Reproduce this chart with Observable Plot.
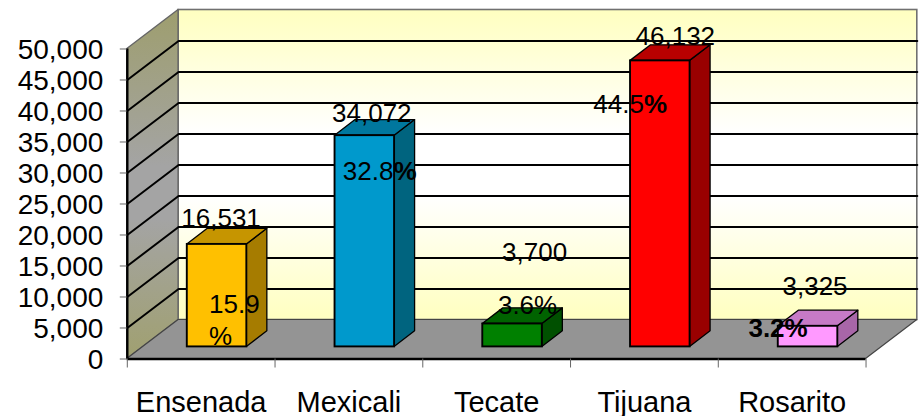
<!DOCTYPE html>
<html><head><meta charset="utf-8">
<script src="https://cdn.jsdelivr.net/npm/d3@7"></script>
<script src="https://cdn.jsdelivr.net/npm/@observablehq/plot@0.6"></script>
<style>html,body{margin:0;padding:0;background:#fff}svg{display:block}</style>
</head><body><div id="c"></div>
<script>
const categories = ["Ensenada","Mexicali","Tecate","Tijuana","Rosarito"];
const values = [16531,34072,3700,46132,3325];
const countLabels = ["16,531","34,072","3,700","46,132","3,325"];
const frontColors = ["#FFC000","#0099CC","#008000","#FF0000","#FF99FF"];
const topColors = ["#C69500","#00779E","#006300","#B80000","#C67AC6"];
const sideColors = ["#A67C00","#00647F","#005000","#990000","#A866A8"];
const yTicks = [0,5000,10000,15000,20000,25000,30000,35000,40000,45000,50000];
const gridValues = [5000,10000,15000,20000,25000,30000,35000,40000,45000];

// oblique projection: depth shifts a point right and up in data units
const depthX = 0.347, depthY = 6290;
const yMax = 50000, nCat = categories.length;
const d0 = 0.31, d1 = 0.71, barW = 0.403;

const bars = categories.map((name,i)=>{
  const xl = i + 0.5 - barW/2, xr = i + 0.5 + barW/2;
  return {name, v:values[i], i, xl, xr, front:frontColors[i], top:topColors[i], side:sideColors[i]};
});
const px = (u,d)=>u + d*depthX, py = (v,d)=>v + d*depthY;

const sidePts = bars.flatMap(b=>[d0,d1].map(d=>({name:b.name, color:b.side, x:px(b.xr,d), y1:py(0,d), y2:py(b.v,d)})));
const topPts = bars.flatMap(b=>[d0,d1].map(d=>({name:b.name, color:b.top, y:py(b.v,d), x1:px(b.xl,d), x2:px(b.xr,d)})));
const gridPts = gridValues.flatMap(v=>[
  {v,x:0,y:v},{v,x:depthX,y:py(v,1)},{v,x:nCat+depthX,y:py(v,1)}]);

const font = "Liberation Sans, Arial, sans-serif";
const anchorX = b=>px(b.i+0.5,d0), anchorY = b=>py(b.v,d0);
const label = (i,text,dx,dy,opts={}) => Plot.text([bars[i]],{
  x:anchorX, y:anchorY, text:()=>text, dx, dy, fontSize:26, fill:"#000", lineHeight:1.24,
  textAnchor:"middle", lineAnchor:"middle", ...opts});

const gradients = () => {
  const defs = d3.create("svg:defs");
  const add = (id,stops)=>{
    const g = defs.append("linearGradient").attr("id",id).attr("x1",0).attr("y1",0).attr("x2",0).attr("y2",1);
    stops.forEach(([o,c])=>g.append("stop").attr("offset",o).attr("stop-color",c));
  };
  add("wall",[["0%","#FFFFC0"],["40%","#FFFFFF"],["60%","#FFFFFF"],["100%","#FFFFC0"]]);
  add("leftwall",[["0%","#9E9E6E"],["45%","#A4A4A4"],["60%","#A4A4A4"],["100%","#A0A070"]]);
  return defs.node();
};

const chart = Plot.plot({
  width:920, height:416,
  marginLeft:126.8, marginRight:3.2, marginTop:9.5, marginBottom:57.5,
  style:{fontFamily:font, background:"#fff", overflow:"visible"},
  x:{domain:[0,nCat+depthX]},
  y:{domain:[0,yMax+depthY]},
  color:{type:"identity"},
  marks:[
    gradients,
    // back wall
    Plot.rect([0],{x1:depthX,x2:nCat+depthX,y1:py(0,1),y2:py(yMax,1),fill:"url(#wall)",stroke:"#707070",strokeWidth:1.6}),
    // left wall
    Plot.areaY([{x:0,y1:0,y2:yMax},{x:depthX,y1:py(0,1),y2:py(yMax,1)}],
      {x:"x",y1:"y1",y2:"y2",fill:"url(#leftwall)",stroke:"#666",strokeWidth:1.4}),
    // gridlines on both walls
    Plot.line(gridPts,{x:"x",y:"y",z:"v",stroke:"#000",strokeWidth:2}),
    // floor
    Plot.areaX([{y:0,x1:0,x2:nCat},{y:py(0,1),x1:depthX,x2:nCat+depthX}],
      {y:"y",x1:"x1",x2:"x2",fill:"#949494",stroke:"#444",strokeWidth:1.2}),
    // axes
    Plot.ruleY([0],{x1:0,x2:nCat,stroke:"#000",strokeWidth:2.4}),
    Plot.ruleX([0],{y1:0,y2:yMax,stroke:"#000",strokeWidth:2.4}),
    Plot.axisY({ticks:yTicks,tickSize:7,tickFormat:()=>"",stroke:"#666",label:null}),
    Plot.axisY({ticks:yTicks,tickFormat:d=>d3.format(",")(d),tickSize:0,tickPadding:24,dy:1,fontSize:28,label:null,fill:"#000"}),
    Plot.axisX({ticks:d3.range(0,nCat+1),tickSize:9,tickFormat:()=>"",stroke:"#666",label:null}),
    Plot.axisX({ticks:categories.map((c,i)=>i+0.5),tickSize:0,tickPadding:32,tickFormat:d=>categories[d-0.5],fontSize:29,fill:"#000",label:null}),
    // bars
    Plot.areaY(sidePts,{x:"x",y1:"y1",y2:"y2",z:"name",fill:"color",stroke:"#000",strokeWidth:1.3}),
    Plot.areaX(topPts,{y:"y",x1:"x1",x2:"x2",z:"name",fill:"color",stroke:"#000",strokeWidth:1.3}),
    Plot.rect(bars,{x1:b=>px(b.xl,d0),x2:b=>px(b.xr,d0),y1:()=>py(0,d0),y2:b=>py(b.v,d0),fill:"front",stroke:"#000",strokeWidth:1.9}),
    // value labels
    label(0,countLabels[0],4,-28),
    label(1,countLabels[1],7,-23.5),
    label(2,countLabels[2],22,-73.5),
    label(3,countLabels[3],15,-26.5),
    label(4,countLabels[4],7,-41.5),
    // share labels
    label(0,"15.9\n%",-8,74.5,{textAnchor:"start"}),
    label(1,"32.8",-22,34,{textAnchor:"start"}),
    label(1,"%",28.6,34,{textAnchor:"start",fontWeight:"bold"}),
    label(2,"3.6%",15,-20.5),
    label(3,"44.5",-67,41.5,{textAnchor:"start"}),
    label(3,"%",-16.4,41.5,{textAnchor:"start",fontWeight:"bold"}),
    label(4,"3.2%",-30,0,{fontWeight:"bold"})
  ]
});
document.getElementById("c").append(chart);
</script></body></html>
